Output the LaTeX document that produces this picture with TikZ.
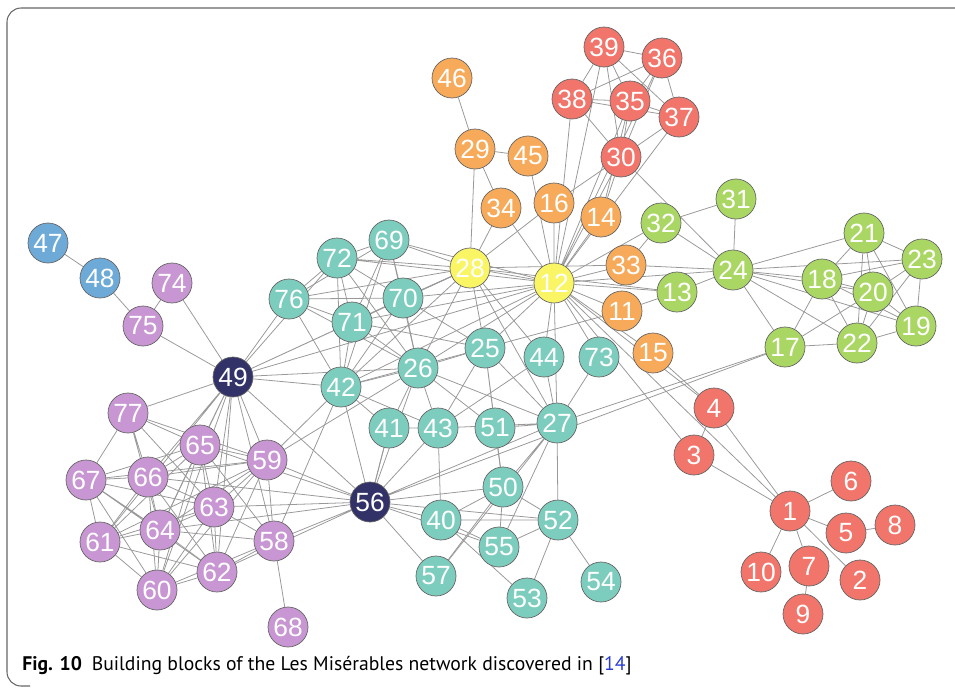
\documentclass[tikz,border=0pt]{standalone}
\usepackage{fontspec}
\setmainfont{Liberation Sans}
\newfontfamily\capfont{PT Sans}
\usepackage{tikz}
\usetikzlibrary{positioning}
\definecolor{redc}{RGB}{241,117,107}
\definecolor{orangec}{RGB}{246,170,90}
\definecolor{yellowc}{RGB}{250,245,100}
\definecolor{greenc}{RGB}{170,215,100}
\definecolor{tealc}{RGB}{125,205,190}
\definecolor{purplec}{RGB}{200,150,210}
\definecolor{bluec}{RGB}{110,170,215}
\definecolor{navyc}{RGB}{50,50,105}
\definecolor{refc}{RGB}{40,60,210}
\tikzstyle{vertex} = [draw=black!60, circle, minimum size=0.8cm, inner sep=0pt,
	text=white, font=\fontsize{15}{15}\selectfont]
\tikzstyle{redv} = [vertex, fill=redc]
\tikzstyle{orangev} = [vertex, fill=orangec]
\tikzstyle{yellowv} = [vertex, fill=yellowc]
\tikzstyle{greenv} = [vertex, fill=greenc]
\tikzstyle{tealv} = [vertex, fill=tealc]
\tikzstyle{purplev} = [vertex, fill=purplec]
\tikzstyle{bluev} = [vertex, fill=bluec]
\tikzstyle{navyv} = [vertex, fill=navyc]
\tikzstyle{link} = [draw, black!40, line width=0.45pt]
\pgfdeclarelayer{bg}
\pgfsetlayers{bg,main}

\begin{document}
\begin{tikzpicture}[x=0.02cm, y=-0.02cm]
		\useasboundingbox (0,0) rectangle (955,687);
		\draw [black!60, line width=0.6pt, rounded corners=8pt] (960,8) -- (7,8) -- (7,686) -- (30,686);

		% blue and purple
		\node [bluev] (n47) at (48,243) {47};
		\node [bluev] (n48) at (100,278) {48};
		\node [purplev] (n74) at (172,283) {74};
		\node [purplev] (n75) at (143,326) {75};
		\node [navyv] (n49) at (233,377) {49};
		\node [purplev] (n77) at (128,413) {77};
		\node [purplev] (n65) at (200,445) {65};
		\node [purplev] (n66) at (148,477) {66};
		\node [purplev] (n59) at (267,460) {59};
		\node [purplev] (n67) at (86,480) {67};
		\node [purplev] (n63) at (214,507) {63};
		\node [purplev] (n64) at (160,530) {64};
		\node [purplev] (n61) at (100,542) {61};
		\node [purplev] (n58) at (274,541) {58};
		\node [purplev] (n62) at (217,572) {62};
		\node [purplev] (n60) at (157,590) {60};
		\node [purplev] (n68) at (288,627) {68};
		\node [navyv] (n56) at (370,502) {56};

		% teal
		\node [tealv] (n72) at (337,258) {72};
		\node [tealv] (n69) at (389,240) {69};
		\node [tealv] (n76) at (289,299) {76};
		\node [tealv] (n71) at (352,322) {71};
		\node [tealv] (n70) at (403,298) {70};
		\node [tealv] (n42) at (341,387) {42};
		\node [tealv] (n26) at (418,368) {26};
		\node [tealv] (n25) at (485,348) {25};
		\node [tealv] (n44) at (544,357) {44};
		\node [tealv] (n73) at (599,357) {73};
		\node [tealv] (n41) at (389,428) {41};
		\node [tealv] (n43) at (438,428) {43};
		\node [tealv] (n51) at (495,428) {51};
		\node [tealv] (n27) at (557,423) {27};
		\node [tealv] (n50) at (503,487) {50};
		\node [tealv] (n40) at (441,520) {40};
		\node [tealv] (n52) at (558,520) {52};
		\node [tealv] (n55) at (499,547) {55};
		\node [tealv] (n57) at (436,576) {57};
		\node [tealv] (n53) at (527,598) {53};
		\node [tealv] (n54) at (601,582) {54};

		% yellow and orange
		\node [yellowv] (n28) at (470,268) {28};
		\node [yellowv] (n12) at (554,283) {12};
		\node [orangev] (n46) at (452,78) {46};
		\node [orangev] (n29) at (475,149) {29};
		\node [orangev] (n45) at (528,156) {45};
		\node [orangev] (n34) at (501,208) {34};
		\node [orangev] (n16) at (554,203) {16};
		\node [orangev] (n14) at (601,217) {14};
		\node [orangev] (n33) at (626,265) {33};
		\node [orangev] (n11) at (622,311) {11};
		\node [orangev] (n15) at (653,353) {15};

		% red
		\node [redv] (n39) at (604,47) {39};
		\node [redv] (n36) at (662,58) {36};
		\node [redv] (n38) at (572,99) {38};
		\node [redv] (n35) at (630,101) {35};
		\node [redv] (n37) at (679,117) {37};
		\node [redv] (n30) at (621,157) {30};
		\node [redv] (n4) at (714,408) {4};
		\node [redv] (n3) at (694,455) {3};
		\node [redv] (n1) at (790,511) {1};
		\node [redv] (n6) at (851,481) {6};
		\node [redv] (n5) at (846,533) {5};
		\node [redv] (n8) at (895,525) {8};
		\node [redv] (n7) at (809,566) {7};
		\node [redv] (n10) at (761,572) {10};
		\node [redv] (n2) at (860,580) {2};
		\node [redv] (n9) at (803,614) {9};

		% green
		\node [greenv] (n32) at (661,223) {32};
		\node [greenv] (n31) at (736,199) {31};
		\node [greenv] (n13) at (677,292) {13};
		\node [greenv] (n24) at (733,270) {24};
		\node [greenv] (n21) at (864,233) {21};
		\node [greenv] (n18) at (822,279) {18};
		\node [greenv] (n23) at (922,259) {23};
		\node [greenv] (n20) at (873,292) {20};
		\node [greenv] (n19) at (916,326) {19};
		\node [greenv] (n22) at (857,343) {22};
		\node [greenv] (n17) at (785,347) {17};

		\begin{pgfonlayer}{bg}
		\path [link] (n47) -- (n48) (n48) -- (n75) (n74) -- (n75) (n74) -- (n49) (n75) -- (n49);
		\path [link] (n49) -- (n76) (n49) -- (n72) (n49) -- (n71) (n49) -- (n26) (n49) -- (n42) (n49) -- (n12) (n49) -- (n28);
		\path [link] (n49) -- (n77) (n49) -- (n65) (n49) -- (n66) (n49) -- (n63) (n49) -- (n64) (n49) -- (n59) (n49) -- (n58) (n49) -- (n62) (n49) -- (n60) (n49) -- (n61) (n49) -- (n56);
		\path [link] (n77) -- (n67) (n77) -- (n66) (n77) -- (n65) (n77) -- (n63) (n77) -- (n59) (n77) -- (n64);
		\path [link] (n67) -- (n66) (n67) -- (n61) (n67) -- (n64) (n67) -- (n63) (n67) -- (n62) (n67) -- (n65) (n67) -- (n60) (n67) -- (n59);
		\path [link] (n66) -- (n65) (n66) -- (n63) (n66) -- (n64) (n66) -- (n61) (n66) -- (n60) (n66) -- (n62) (n66) -- (n59) (n66) -- (n56);
		\path [link] (n65) -- (n63) (n65) -- (n64) (n65) -- (n59) (n65) -- (n62) (n65) -- (n60) (n65) -- (n58) (n65) -- (n61) (n65) -- (n56);
		\path [link] (n59) -- (n63) (n59) -- (n64) (n59) -- (n58) (n59) -- (n62) (n59) -- (n60) (n59) -- (n61) (n59) -- (n56) (n59) -- (n42) (n59) -- (n26);
		\path [link] (n63) -- (n64) (n63) -- (n62) (n63) -- (n58) (n63) -- (n60) (n63) -- (n61) (n63) -- (n56);
		\path [link] (n64) -- (n61) (n64) -- (n60) (n64) -- (n62) (n64) -- (n58) (n61) -- (n60) (n61) -- (n62) (n60) -- (n62) (n60) -- (n58) (n62) -- (n58);
		\path [link] (n58) -- (n56) (n58) -- (n68) (n58) -- (n42) (n62) -- (n56) (n64) -- (n56);
		\path [link] (n56) -- (n42) (n56) -- (n26) (n56) -- (n41) (n56) -- (n43) (n56) -- (n40) (n56) -- (n50) (n56) -- (n52) (n56) -- (n57) (n56) -- (n27) (n56) -- (n17) (n56) -- (n55);
		\path [link] (n72) -- (n69) (n72) -- (n76) (n72) -- (n71) (n72) -- (n42) (n72) -- (n70) (n72) -- (n28) (n72) -- (n12) (n72) -- (n26);
		\path [link] (n69) -- (n70) (n69) -- (n71) (n69) -- (n76) (n69) -- (n28) (n69) -- (n12) (n69) -- (n26) (n69) -- (n42);
		\path [link] (n76) -- (n71) (n76) -- (n70) (n76) -- (n42) (n76) -- (n26) (n76) -- (n28);
		\path [link] (n71) -- (n70) (n71) -- (n42) (n71) -- (n26) (n71) -- (n28) (n71) -- (n12) (n71) -- (n25);
		\path [link] (n70) -- (n26) (n70) -- (n42) (n70) -- (n28) (n70) -- (n12) (n70) -- (n25);
		\path [link] (n26) -- (n42) (n26) -- (n41) (n26) -- (n43) (n26) -- (n25) (n26) -- (n28) (n26) -- (n12) (n26) -- (n27) (n26) -- (n51);
		\path [link] (n42) -- (n41) (n42) -- (n28) (n42) -- (n12) (n42) -- (n25) (n42) -- (n43);
		\path [link] (n25) -- (n28) (n25) -- (n12) (n25) -- (n43) (n25) -- (n51) (n25) -- (n27) (n25) -- (n11) (n25) -- (n50);
		\path [link] (n44) -- (n12) (n44) -- (n27) (n44) -- (n28) (n44) -- (n43) (n73) -- (n12) (n73) -- (n27);
		\path [link] (n27) -- (n12) (n27) -- (n28) (n27) -- (n51) (n27) -- (n50) (n27) -- (n52) (n27) -- (n55) (n27) -- (n43) (n27) -- (n17) (n27) -- (n57);
		\path [link] (n43) -- (n40) (n43) -- (n41) (n51) -- (n50) (n50) -- (n40) (n50) -- (n52) (n50) -- (n55) (n50) -- (n57);
		\path [link] (n40) -- (n52) (n40) -- (n55) (n40) -- (n53) (n52) -- (n55) (n52) -- (n53) (n52) -- (n54) (n41) -- (n56);
		\path [link] (n28) -- (n29) (n28) -- (n34) (n28) -- (n16) (n28) -- (n12) (n28) -- (n33) (n28) -- (n13);
		\path [link] (n12) -- (n16) (n12) -- (n34) (n12) -- (n14) (n12) -- (n33) (n12) -- (n11) (n12) -- (n13) (n12) -- (n15) (n12) -- (n24);
		\path [link] (n12) -- (n30) (n12) -- (n35) (n12) -- (n38) (n12) -- (n37) (n12) -- (n36) (n12) -- (n39) (n12) -- (n45) (n12) -- (n32);
		\path [link] (n12) -- (n3) (n12) -- (n4) (n12) -- (n1);
		\path [link] (n46) -- (n29) (n29) -- (n45) (n29) -- (n34) (n16) -- (n30) (n14) -- (n35) (n14) -- (n30) (n33) -- (n32) (n11) -- (n13) (n15) -- (n4);
		\path [link] (n39) -- (n36) (n39) -- (n38) (n39) -- (n35) (n39) -- (n37) (n39) -- (n30) (n36) -- (n35) (n36) -- (n37) (n36) -- (n38) (n36) -- (n30);
		\path [link] (n38) -- (n35) (n38) -- (n30) (n38) -- (n37) (n35) -- (n37) (n35) -- (n30) (n37) -- (n30) (n30) -- (n24);
		\path [link] (n32) -- (n31) (n32) -- (n24) (n31) -- (n24) (n13) -- (n24) (n33) -- (n24);
		\path [link] (n24) -- (n21) (n24) -- (n18) (n24) -- (n20) (n24) -- (n23) (n24) -- (n19) (n24) -- (n22) (n24) -- (n17);
		\path [link] (n21) -- (n18) (n21) -- (n20) (n21) -- (n23) (n21) -- (n22) (n21) -- (n19);
		\path [link] (n18) -- (n20) (n18) -- (n23) (n18) -- (n22) (n18) -- (n19) (n18) -- (n17);
		\path [link] (n23) -- (n20) (n23) -- (n19) (n23) -- (n22) (n20) -- (n22) (n20) -- (n19) (n20) -- (n17) (n22) -- (n19) (n22) -- (n17);
		\path [link] (n4) -- (n3) (n4) -- (n1) (n3) -- (n1) (n1) -- (n6) (n1) -- (n5) (n5) -- (n8) (n1) -- (n7) (n1) -- (n10) (n1) -- (n2) (n7) -- (n9);
		\end{pgfonlayer}

		\node [anchor=base west, inner sep=0pt, font=\capfont\fontsize{11.2}{12}\selectfont] (caption) at (22,670)
			{\textbf{Fig. 10}\hspace{0.5em}Building blocks of the Les Misérables network discovered in [{\color{refc}14}]};
	\end{tikzpicture}
\end{document}
